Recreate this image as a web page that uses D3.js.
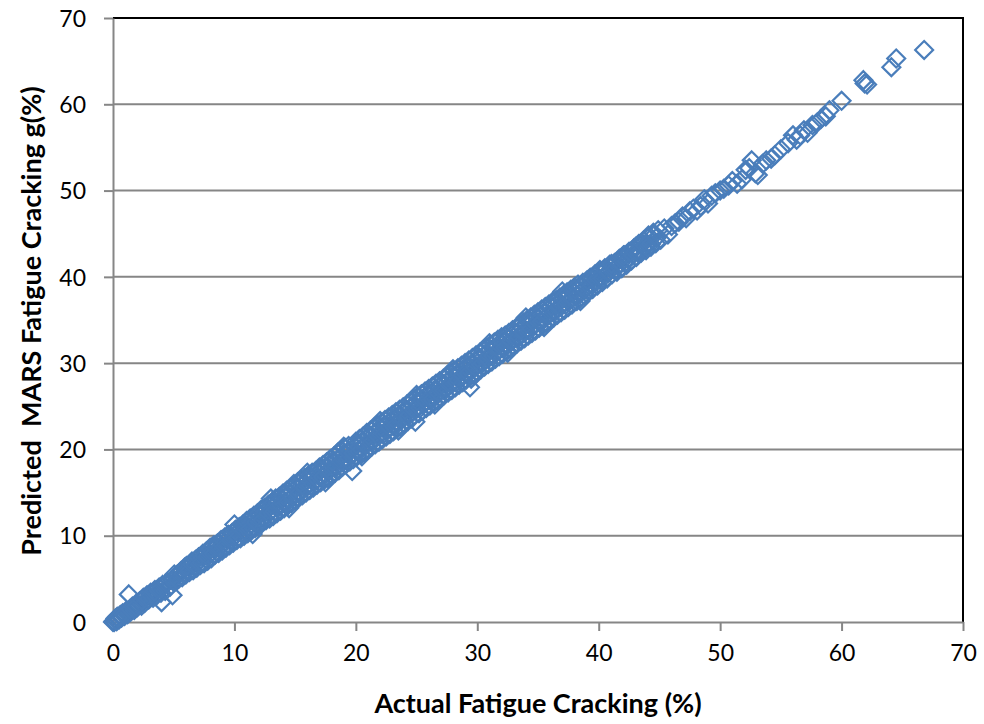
<!DOCTYPE html>
<html>
<head>
<meta charset="utf-8">
<script src="https://cdn.jsdelivr.net/npm/d3@7"></script>
<style>
  html, body { margin: 0; padding: 0; background: #fff; }
  svg { display: block; }
</style>
</head>
<body>
<div id="chart"></div>
<script>
// Actual vs. MARS-predicted fatigue cracking (%)
const actual = [
  0, 0.05, 0.1, 0.2, 0.3, 0.35, 0.5, 0.6, 0.7, 0.8,
  0.95, 1.1, 1.2, 1.3, 1.45, 1.6, 1.75, 1.9, 2.0, 2.2,
  2.35, 2.5, 2.6, 2.8, 2.95, 3.1, 3.3, 3.45, 3.6, 3.8,
  3.95, 4.0, 4.1, 4.3, 4.5, 4.7, 4.9, 4.9, 5.1, 5.3,
  5.4, 5.6, 5.7, 5.9, 6.0, 6.2, 6.3, 6.5, 6.6, 6.8,
  6.9, 7.1, 7.2, 7.4, 7.5, 7.7, 7.8, 8.0, 8.1, 8.3,
  8.4, 8.6, 8.7, 8.9, 9.0, 9.2, 9.3, 9.5, 9.6, 9.8,
  9.9, 10.1, 10.2, 10.4, 10.5, 10.7, 10.8, 11.0, 11.1, 11.3,
  11.4, 11.6, 11.7, 11.9, 12.0, 12.2, 12.3, 12.5, 12.6, 12.8,
  12.9, 13.1, 13.2, 13.4, 13.5, 13.7, 13.8, 14.0, 14.1, 14.3,
  14.4, 14.6, 14.7, 14.9, 15.0, 15.2, 15.3, 15.5, 15.6, 15.8,
  15.9, 16.1, 16.2, 16.4, 16.5, 16.7, 16.8, 17.0, 17.1, 17.3,
  17.4, 17.6, 17.7, 17.9, 18.0, 18.2, 18.3, 18.5, 18.6, 18.8,
  18.9, 19.1, 19.2, 19.4, 19.5, 19.7, 19.8, 20.0, 20.1, 20.3,
  20.4, 20.6, 20.7, 20.9, 21.0, 21.2, 21.3, 21.5, 21.6, 21.8,
  21.9, 22.1, 22.2, 22.4, 22.5, 22.7, 22.8, 23.0, 23.1, 23.3,
  23.4, 23.6, 23.7, 23.9, 24.0, 24.2, 24.3, 24.5, 24.6, 24.8,
  24.9, 25.1, 25.2, 25.4, 25.5, 25.7, 25.8, 26.0, 26.1, 26.3,
  26.4, 26.6, 26.7, 26.9, 27.0, 27.2, 27.3, 27.5, 27.6, 27.8,
  27.9, 28.1, 28.2, 28.4, 28.5, 28.7, 28.8, 29.0, 29.1, 29.3,
  29.4, 29.4, 29.6, 29.7, 29.9, 30.0, 30.2, 30.3, 30.5, 30.6,
  30.8, 30.9, 31.1, 31.2, 31.4, 31.5, 31.7, 31.8, 32.0, 32.1,
  32.3, 32.4, 32.6, 32.7, 32.9, 33.0, 33.2, 33.3, 33.5, 33.6,
  33.8, 33.9, 34.1, 34.2, 34.4, 34.5, 34.7, 34.8, 35.0, 35.1,
  35.3, 35.4, 35.6, 35.7, 35.9, 36.0, 36.2, 36.3, 36.5, 36.6,
  36.8, 36.9, 37.1, 37.2, 37.4, 37.5, 37.7, 37.8, 38.0, 38.2,
  38.3, 38.5, 38.7, 38.8, 39.0, 39.2, 39.3, 39.5, 39.7, 39.9,
  40.1, 40.3, 40.5, 40.7, 40.9, 41.1, 41.3, 41.5, 41.7, 41.9,
  42.1, 42.3, 42.5, 42.7, 42.9, 43.1, 43.3, 43.5, 43.7, 43.9,
  44.1, 44.3, 44.5, 44.7, 44.9, 45.1, 45.4, 45.7, 46.0, 46.3,
  46.6, 46.9, 47.2, 47.5, 47.8, 48.1, 48.4, 48.7, 49.0, 49.3,
  49.6, 50.0, 50.3, 50.7, 51.0, 51.4, 51.8, 52.1, 52.4, 52.6,
  52.9, 53.1, 53.5, 53.8, 54.2, 54.5, 55.0, 55.6, 56.0, 56.3,
  56.6, 56.9, 57.2, 57.6, 58.0, 58.3, 58.7, 59.0, 60.0, 61.8,
  61.9, 62.1, 64.1, 64.5, 66.8,
  0.4, 0.9, 1.4, 1.9, 2.4, 2.9, 3.4, 3.9, 4.4, 4.9,
  5.4, 5.9, 6.4, 6.9, 7.4, 7.9, 8.4, 8.9, 9.4, 9.9,
  10.3, 10.6, 10.9, 11.2, 11.5, 11.8, 12.1, 12.4, 12.7, 13.0,
  13.3, 13.6, 13.9, 14.2, 14.5, 14.8, 15.1, 15.4, 15.7, 16.0,
  16.3, 16.6, 16.9, 17.2, 17.5, 17.8, 18.1, 18.4, 18.7, 19.0,
  19.3, 19.6, 19.9, 20.2, 20.5, 20.8, 21.1, 21.4, 21.7, 22.0,
  22.3, 22.6, 22.9, 23.2, 23.5, 23.8, 24.1, 24.4, 24.7, 25.0,
  25.3, 25.6, 25.9, 26.2, 26.5, 26.8, 27.1, 27.4, 27.7, 28.0,
  28.3, 28.6, 28.9, 29.2, 29.5, 29.8, 30.1, 30.4, 30.7, 31.0,
  31.3, 31.6, 31.9, 32.2, 32.5, 32.8, 33.1, 33.4, 33.7, 34.0,
  34.3, 34.6, 34.9, 35.2, 35.5, 35.8, 36.1, 36.4, 36.7, 37.0,
  37.3, 37.6, 37.9, 38.2, 38.5, 38.8, 39.1, 39.4, 39.7, 40.0,
  40.4, 40.8, 41.2, 41.6, 42.0, 42.4, 42.8, 43.2, 43.6, 44.0,
  10.0, 11.5, 13.0, 14.5, 16.0, 17.5, 19.0, 20.5, 22.0, 23.5,
  25.0, 26.5, 28.0, 29.5, 31.0, 32.5, 34.0, 35.5, 37.0, 38.5,
  5.05, 5.3, 5.55, 5.8, 6.05, 6.3, 6.55, 6.8, 7.05, 7.3,
  7.55, 7.8, 8.05, 8.3, 8.55, 8.8, 9.05, 9.3, 9.55, 9.8,
  10.05, 10.3, 10.55, 10.8, 11.05, 11.3, 11.55, 11.8, 12.05, 12.3,
  12.55, 12.8, 13.05, 13.3, 13.55, 13.8, 14.05, 14.3, 14.55, 14.8,
  15.05, 15.3, 15.55, 15.8, 16.05, 16.3, 16.55, 16.8, 17.05, 17.3,
  17.55, 17.8, 18.05, 18.3, 18.55, 18.8, 19.05, 19.3, 19.55, 19.8,
  20.05, 20.3, 20.55, 20.8, 21.05, 21.3, 21.55, 21.8, 22.05, 22.3,
  22.55, 22.8, 23.05, 23.3, 23.55, 23.8, 24.05, 24.3, 24.55, 24.8,
  25.05, 25.3, 25.55, 25.8, 26.05, 26.3, 26.55, 26.8, 27.05, 27.3,
  27.55, 27.8, 28.05, 28.3, 28.55, 28.8, 29.05, 29.3, 29.55, 29.8,
  30.05, 30.3, 30.55, 30.8, 31.05, 31.3, 31.55, 31.8, 32.05, 32.3,
  32.55, 32.8, 33.05, 33.3, 33.55, 33.8, 34.05, 34.3, 34.55, 34.8,
  35.05, 35.3, 35.55, 35.8, 36.05, 36.3, 36.55, 36.8, 37.05, 37.3,
  37.55, 37.8, 38.05, 38.3, 38.55, 38.8, 39.05, 39.3, 39.55, 39.8,
  40.05, 40.3, 40.55, 40.8, 41.05, 41.3, 41.55, 41.8, 42.05, 42.3,
  42.55, 42.8, 43.05, 43.3, 43.55, 43.8, 44.05, 44.3, 44.55, 44.8
];

const predicted = [
  0, 0.1, 0.0, 0.4, 0.1, 0.6, 0.3, 0.8, 0.5, 1.0,
  0.7, 1.3, 0.9, 3.2, 1.2, 1.8, 1.4, 2.1, 1.7, 2.4,
  1.9, 2.8, 2.2, 3.1, 2.6, 3.4, 2.8, 3.7, 3.1, 4.0,
  3.4, 2.3, 4.3, 3.6, 4.6, 4.1, 4.9, 3.1, 4.7, 5.5,
  5.0, 5.9, 5.2, 6.3, 5.5, 6.5, 5.8, 7.0, 6.0, 7.2,
  6.3, 7.5, 6.6, 7.9, 6.8, 8.2, 7.1, 8.6, 7.4, 8.9,
  7.8, 9.1, 8.0, 9.5, 8.3, 9.8, 8.6, 10.1, 8.9, 10.3,
  9.2, 10.7, 9.5, 11.0, 9.7, 11.3, 10.0, 11.7, 10.3, 12.0,
  10.6, 12.3, 10.9, 12.6, 11.2, 13.0, 11.5, 13.2, 11.8, 13.6,
  12.0, 13.9, 12.3, 14.3, 12.6, 14.5, 12.9, 14.9, 13.2, 15.2,
  13.5, 15.4, 13.8, 16.0, 14.1, 16.2, 14.4, 16.5, 14.7, 16.7,
  15.0, 17.0, 15.3, 17.3, 15.6, 17.5, 15.9, 17.9, 16.2, 18.2,
  16.5, 18.5, 16.7, 18.9, 17.0, 19.2, 17.3, 19.6, 17.6, 19.9,
  18.0, 20.2, 18.3, 20.4, 18.6, 17.5, 18.9, 20.9, 19.2, 21.2,
  19.4, 21.5, 19.7, 21.9, 20.0, 22.2, 20.3, 22.5, 20.6, 22.8,
  20.9, 23.1, 21.2, 23.4, 21.5, 23.7, 21.8, 24.0, 22.1, 24.3,
  22.4, 24.6, 22.7, 24.9, 23.0, 25.2, 23.3, 25.5, 23.6, 25.8,
  23.2, 26.1, 24.2, 26.4, 24.5, 26.7, 24.8, 27.0, 25.1, 27.3,
  25.4, 27.6, 25.7, 27.9, 26.0, 28.2, 26.3, 28.5, 26.6, 28.8,
  26.9, 29.1, 27.2, 29.4, 27.5, 29.7, 27.8, 30.0, 28.1, 30.3,
  28.4, 27.2, 30.6, 28.7, 30.9, 29.0, 31.2, 29.3, 31.5, 29.6,
  31.8, 29.9, 32.1, 30.2, 32.4, 30.5, 32.7, 30.8, 33.0, 31.1,
  33.2, 31.4, 33.5, 31.7, 33.8, 32.0, 34.1, 32.3, 34.4, 32.6,
  34.7, 32.9, 35.0, 33.2, 35.3, 33.5, 35.6, 33.8, 35.9, 34.1,
  36.2, 34.4, 36.5, 34.7, 36.8, 35.0, 37.1, 35.3, 37.3, 35.6,
  37.6, 35.9, 37.9, 36.2, 38.2, 36.5, 38.5, 36.8, 38.8, 37.2,
  39.1, 37.5, 39.3, 37.9, 39.5, 38.3, 39.9, 38.6, 40.3, 39.0,
  40.8, 39.4, 41.0, 39.8, 41.4, 40.3, 41.6, 40.6, 42.1, 41.0,
  42.5, 41.4, 42.9, 41.9, 43.3, 42.3, 43.8, 42.8, 44.2, 43.1,
  44.8, 43.5, 45.1, 43.9, 45.4, 44.3, 45.6, 44.9, 45.9, 46.2,
  46.4, 47.0, 46.8, 47.6, 47.9, 47.7, 48.2, 49.0, 48.5, 49.4,
  49.7, 50.0, 50.2, 50.6, 51.1, 50.8, 51.3, 52.4, 52.6, 53.5,
  52.0, 51.8, 53.1, 53.5, 53.7, 54.1, 54.8, 55.5, 56.4, 55.9,
  56.4, 57.0, 56.7, 57.6, 57.9, 58.3, 58.6, 59.3, 60.4, 62.8,
  62.4, 62.3, 64.3, 65.3, 66.3,
  0.5, 0.8, 1.5, 1.8, 2.5, 2.8, 3.5, 3.8, 4.5, 4.8,
  5.6, 5.8, 6.6, 6.8, 7.6, 7.8, 8.6, 8.8, 9.6, 9.8,
  10.5, 10.4, 11.2, 11.0, 11.8, 11.5, 12.4, 12.1, 13.0, 12.8,
  13.6, 13.4, 14.2, 13.9, 14.9, 14.5, 15.5, 15.1, 16.1, 15.7,
  16.7, 16.3, 17.3, 16.9, 17.9, 17.5, 18.5, 18.1, 19.1, 18.7,
  19.7, 19.3, 20.3, 19.9, 20.9, 20.5, 21.5, 21.1, 22.1, 21.7,
  22.7, 22.3, 23.3, 22.9, 23.9, 23.5, 24.5, 24.1, 25.1, 24.7,
  25.7, 25.3, 26.3, 25.9, 26.9, 26.5, 27.5, 27.1, 28.1, 27.7,
  28.7, 28.3, 29.3, 28.9, 29.9, 29.5, 30.5, 30.1, 31.1, 30.7,
  31.7, 31.3, 32.3, 31.9, 32.9, 32.5, 33.5, 33.1, 34.1, 33.7,
  34.7, 34.3, 35.3, 34.9, 35.9, 35.5, 36.5, 36.1, 37.1, 36.7,
  37.7, 37.3, 38.3, 37.9, 38.9, 38.5, 39.5, 39.1, 40.1, 39.7,
  40.6, 40.5, 41.4, 41.3, 42.2, 42.1, 43.0, 42.9, 43.8, 43.7,
  11.3, 10.2, 14.3, 13.2, 17.3, 16.2, 20.3, 19.2, 23.3, 22.2,
  26.3, 25.2, 29.3, 28.2, 32.3, 31.2, 35.3, 34.2, 38.3, 37.2,
  5.5, 4.9, 5.7, 5.6, 6.5, 5.9, 6.7, 6.6, 7.5, 6.9,
  7.7, 7.6, 8.5, 7.9, 8.7, 8.6, 9.5, 8.9, 9.7, 9.6,
  10.6, 9.8, 10.8, 10.6, 11.6, 10.8, 11.8, 11.6, 12.6, 11.8,
  12.8, 12.6, 13.6, 12.8, 13.8, 13.6, 14.6, 13.8, 14.8, 14.6,
  15.6, 14.8, 15.8, 15.6, 16.6, 15.8, 16.8, 16.6, 17.6, 16.8,
  17.8, 17.6, 18.6, 17.8, 18.8, 18.6, 19.6, 18.8, 19.8, 19.6,
  20.6, 19.8, 20.8, 20.6, 21.6, 20.8, 21.8, 21.6, 22.6, 21.8,
  22.8, 22.6, 23.6, 22.8, 23.8, 23.6, 24.6, 23.8, 24.8, 24.6,
  25.6, 24.8, 25.8, 25.6, 26.6, 25.8, 26.8, 26.6, 27.6, 26.8,
  27.8, 27.6, 28.6, 27.8, 28.8, 28.6, 29.6, 28.8, 29.8, 29.6,
  30.6, 29.8, 30.8, 30.6, 31.6, 30.8, 31.8, 31.6, 32.6, 31.8,
  32.8, 32.6, 33.6, 32.8, 33.8, 33.6, 34.6, 33.8, 34.8, 34.6,
  35.6, 34.8, 35.8, 35.6, 36.6, 35.8, 36.8, 36.6, 37.6, 36.8,
  37.8, 37.6, 38.6, 37.8, 38.8, 38.6, 39.6, 38.8, 39.8, 39.6,
  40.5, 39.8, 40.8, 40.6, 41.5, 40.8, 41.8, 41.6, 42.5, 41.8,
  42.8, 42.6, 43.5, 42.8, 43.8, 43.6, 44.5, 43.8, 44.8, 44.6
];

const xTicks = [0, 10, 20, 30, 40, 50, 60, 70];
const yTicks = [0, 10, 20, 30, 40, 50, 60, 70];
const xTitle = "Actual Fatigue Cracking (%)";
const yTitle = "Predicted  MARS Fatigue Cracking g(%)";

const width = 984, height = 724;
const margin = { top: 18, right: 21, bottom: 102, left: 113 };
const innerW = width - margin.left - margin.right;
const innerH = height - margin.top - margin.bottom;

const FONT = "Lato, 'Open Sans', sans-serif";
const GRID = "#868686";
const MARK = "#4a7ebb";

const svg = d3.select("#chart").append("svg")
  .attr("width", width).attr("height", height);

const x = d3.scaleLinear().domain([0, 70]).range([0, innerW]);
const y = d3.scaleLinear().domain([0, 70]).range([innerH, 0]);

const g = svg.append("g").attr("transform", `translate(${margin.left},${margin.top})`);

// horizontal gridlines
g.append("g").selectAll("line")
  .data(yTicks.filter(d => d > 0 && d < 70))
  .join("line")
  .attr("x1", 0).attr("x2", innerW)
  .attr("y1", d => y(d)).attr("y2", d => y(d))
  .attr("stroke", GRID).attr("stroke-width", 2);

// plot-area border (top and right)
g.append("path")
  .attr("d", `M0,${y(70)}H${innerW}V${innerH}`)
  .attr("fill", "none").attr("stroke", "#000").attr("stroke-width", 2);

// axes
const xAxis = g.append("g").attr("transform", `translate(0,${innerH})`)
  .call(d3.axisBottom(x).tickValues(xTicks).tickSizeInner(9).tickSizeOuter(0).tickPadding(12));
const yAxis = g.append("g")
  .call(d3.axisLeft(y).tickValues(yTicks).tickSizeInner(9).tickSizeOuter(0).tickPadding(18));

[xAxis, yAxis].forEach(ax => {
  ax.select(".domain").attr("stroke", GRID).attr("stroke-width", 2);
  ax.selectAll(".tick line").attr("stroke", GRID).attr("stroke-width", 2);
  ax.selectAll(".tick text")
    .attr("font-family", FONT).attr("font-size", 23).attr("fill", "#000");
});
xAxis.selectAll(".tick text").attr("dy", "0.78em");
yAxis.selectAll(".tick text").attr("dy", "0.36em");

// diamond markers
const pts = d3.zip(actual, predicted);
const diamond = d3.symbol().type(d3.symbolDiamond2).size(205);
g.append("g").selectAll("path")
  .data(pts)
  .join("path")
  .attr("d", diamond)
  .attr("transform", d => `translate(${x(d[0])},${y(d[1])})`)
  .attr("fill", "none")
  .attr("stroke", MARK)
  .attr("stroke-width", 2.2);

// axis titles
svg.append("text")
  .attr("x", 538).attr("y", 713)
  .attr("text-anchor", "middle")
  .attr("font-family", FONT).attr("font-weight", "bold").attr("font-size", 27)
  .text(xTitle);

svg.append("text")
  .attr("transform", `translate(41,321) rotate(-90)`)
  .attr("text-anchor", "middle")
  .attr("font-family", FONT).attr("font-weight", "bold").attr("font-size", 27)
  .style("white-space", "pre")
  .text(yTitle);
</script>
</body>
</html>
